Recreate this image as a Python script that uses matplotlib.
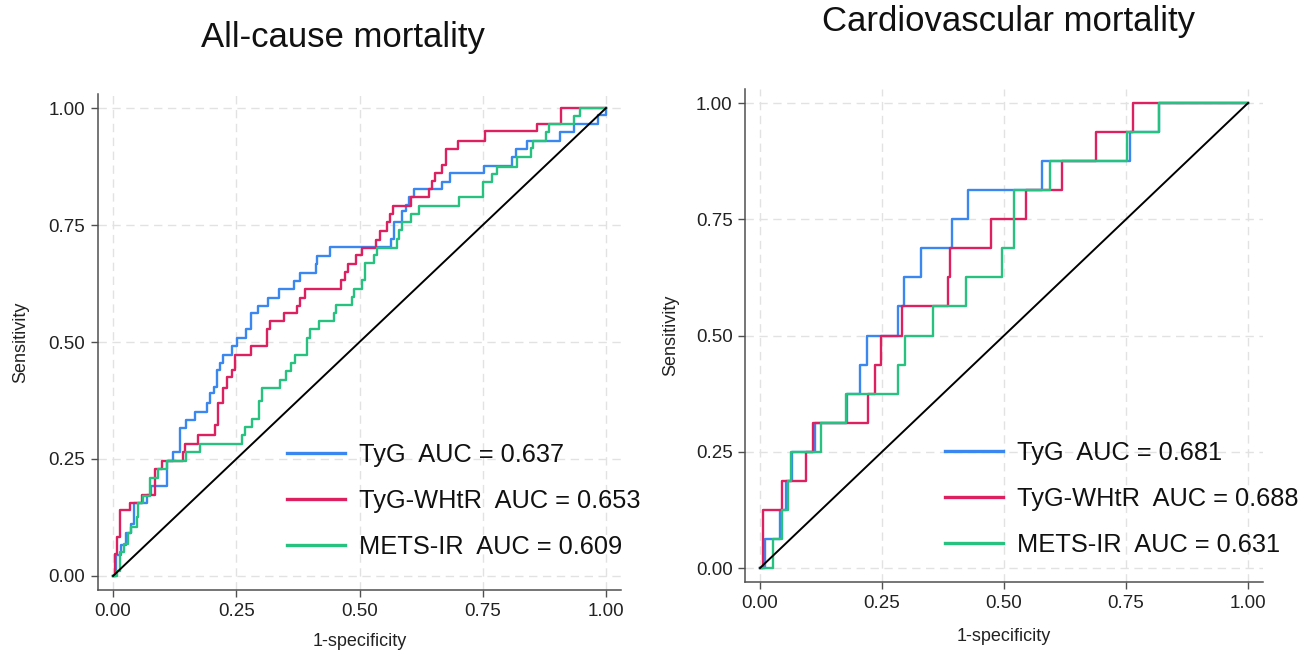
import matplotlib
matplotlib.use('Agg')
import matplotlib.pyplot as plt

plt.rcParams['font.family'] = ['Liberation Sans', 'DejaVu Sans']

# ---------------- data ----------------
tick_vals = [0, 0.25, 0.5, 0.75, 1.0]
tick_labels = ['0.00', '0.25', '0.50', '0.75', '1.00']
ref_line = [0, 1]

series_names = ['TyG', 'TyG-WHtR', 'METS-IR']
series_colors = ['#3B87F0', '#DD2060', '#27C280']

titles = ['All-cause mortality', 'Cardiovascular mortality']
auc_left = ['0.637', '0.653', '0.609']
auc_right = ['0.681', '0.688', '0.631']

# All-cause mortality ROC (1-specificity, sensitivity)
left_tyg_fpr = [0, .005, .016, .027, .037, .043, .068, .078, .109, .122, .136, .147, .167, .190, .197, .204,
                .210, .216, .223, .242, .252, .269, .279, .294, .315, .336, .367, .379, .411, .414, .440, .563,
                .570, .587, .595, .601, .611, .668, .683, .752, .810, .817, .839, .906, .936, .983, 1.0]
left_tyg_tpr = [0, .044, .067, .091, .112, .156, .174, .192, .246, .264, .316, .334, .350, .370, .390, .404,
                .440, .455, .473, .491, .509, .527, .562, .578, .595, .613, .630, .648, .666, .684, .702, .721,
                .756, .779, .793, .809, .827, .843, .861, .877, .896, .913, .930, .948, .966, .986, 1.0]

left_whtr_fpr = [0, .0034, .0088, .0136, .034, .058, .085, .0985, .141, .145, .173, .207, .213, .224, .232,
                 .241, .247, .279, .313, .318, .346, .373, .380, .390, .463, .470, .477, .493, .505, .533,
                 .541, .556, .561, .568, .604, .641, .648, .654, .667, .675, .699, .755, .860, .909, 1.0]
left_whtr_tpr = [0, .047, .083, .141, .156, .174, .228, .246, .264, .283, .301, .322, .370, .402, .426,
                 .441, .473, .491, .527, .544, .562, .577, .595, .613, .632, .650, .666, .686, .701, .718,
                 .737, .756, .773, .791, .809, .827, .844, .861, .879, .913, .930, .950, .966, 1.0, 1.0]

left_mets_fpr = [0, .0088, .0136, .022, .031, .037, .048, .051, .061, .075, .092, .109, .149, .177, .262,
                 .268, .282, .296, .302, .338, .350, .361, .370, .394, .399, .417, .448, .452, .485, .488,
                 .505, .511, .529, .536, .577, .580, .586, .604, .621, .702, .750, .768, .778, .819, .847,
                 .851, .878, .884, .936, .948, 1.0]
left_mets_tpr = [0, .011, .051, .069, .091, .105, .127, .156, .170, .210, .228, .246, .264, .283, .301,
                 .319, .336, .373, .402, .419, .437, .455, .473, .509, .527, .544, .562, .579, .596, .614,
                 .632, .668, .686, .701, .721, .739, .756, .773, .791, .809, .843, .859, .875, .896, .914,
                 .930, .948, .966, .982, 1.0, 1.0]

# Cardiovascular mortality ROC
right_tyg_fpr = [0, .010, .041, .054, .066, .113, .179, .204, .220, .283, .296, .329, .393, .427, .578, .759, .817, 1.0]
right_tyg_tpr = [0, .0625, .125, .1875, .25, .3125, .375, .4375, .5, .5625, .625, .6875, .75, .8125, .875, .9375, 1.0, 1.0]

right_whtr_fpr = [0, .007, .044, .095, .109, .221, .236, .247, .290, .385, .390, .474, .544, .619, .688, .764, 1.0]
right_whtr_tpr = [0, .125, .1875, .25, .3125, .375, .4375, .5, .5625, .625, .6875, .75, .8125, .875, .9375, 1.0, 1.0]

right_mets_fpr = [0, .027, .044, .057, .063, .125, .177, .282, .297, .354, .422, .495, .520, .595, .752, .817, 1.0]
right_mets_tpr = [0, .0625, .125, .1875, .25, .3125, .375, .4375, .5, .5625, .625, .6875, .8125, .875, .9375, 1.0, 1.0]

# ---------------- figure ----------------
W, H = 1310, 652
fig = plt.figure(figsize=(W / 100, H / 100), dpi=100)
fig.patch.set_facecolor('white')

ax1 = fig.add_axes([0.0750, 0.0951, 0.3989, 0.7607])
ax2 = fig.add_axes([0.5690, 0.1074, 0.3949, 0.7560])


def style(ax):
    ax.set_xlim(-0.03, 1.03)
    ax.set_ylim(-0.03, 1.03)
    for s in ['top', 'right']:
        ax.spines[s].set_visible(False)
    for s in ['left', 'bottom']:
        ax.spines[s].set_color('#505050')
        ax.spines[s].set_linewidth(1.1)
    ax.set_xticks(tick_vals)
    ax.set_xticklabels(tick_labels)
    ax.set_yticks(tick_vals)
    ax.set_yticklabels(tick_labels)
    ax.tick_params(axis='both', direction='out', length=5.2, width=1.0, color='#505050',
                   labelsize=13.5, labelcolor='#222222', pad=4)
    ax.grid(True, linestyle=(0, (6, 4)), color='#e2e2e2', linewidth=1.0)
    ax.set_axisbelow(True)


def draw(ax, curves, aucs):
    handles = []
    for (fpr, tpr), name, col, auc in zip(curves, series_names, series_colors, aucs):
        h, = ax.step(fpr, tpr, where='post', color=col, linewidth=1.7,
                     label=f'{name}  AUC = {auc}')
        handles.append(h)
    ax.plot(ref_line, ref_line, color='black', linewidth=1.4, zorder=5)
    return handles


style(ax1)
style(ax2)

h1 = draw(ax1, [(left_tyg_fpr, left_tyg_tpr), (left_whtr_fpr, left_whtr_tpr),
                (left_mets_fpr, left_mets_tpr)], auc_left)
h2 = draw(ax2, [(right_tyg_fpr, right_tyg_tpr), (right_whtr_fpr, right_whtr_tpr),
                (right_mets_fpr, right_mets_tpr)], auc_right)

for ax, xl_y, yl_x in [(ax1, -0.087, -0.133), (ax2, -0.093, -0.128)]:
    ax.set_xlabel('1-specificity', fontsize=13, color='#222222')
    ax.set_ylabel('Sensitivity', fontsize=13, color='#222222')
    ax.xaxis.set_label_coords(0.5, xl_y)
    ax.yaxis.set_label_coords(yl_x, 0.5)

leg_kw = dict(frameon=False, fontsize=18.3, handlelength=2.3, handletextpad=0.55,
              labelspacing=0.86, borderpad=0, borderaxespad=0, loc='center left')
lg1 = ax1.legend(handles=h1, bbox_to_anchor=(287 / W, 1 - 501 / H), bbox_transform=fig.transFigure, **leg_kw)
lg2 = ax2.legend(handles=h2, bbox_to_anchor=(945 / W, 1 - 499 / H), bbox_transform=fig.transFigure, **leg_kw)
for lg in (lg1, lg2):
    for ln in lg.get_lines():
        ln.set_linewidth(2.4)
    for t in lg.get_texts():
        t.set_color('#111111')

fig.text(343 / W, 1 - 38 / H, titles[0], fontsize=25, ha='center', va='center', color='#111111')
fig.text(1008 / W, 1 - 22 / H, titles[1], fontsize=25, ha='center', va='center', color='#111111')

fig.savefig('out.png', dpi=100, facecolor='white')
